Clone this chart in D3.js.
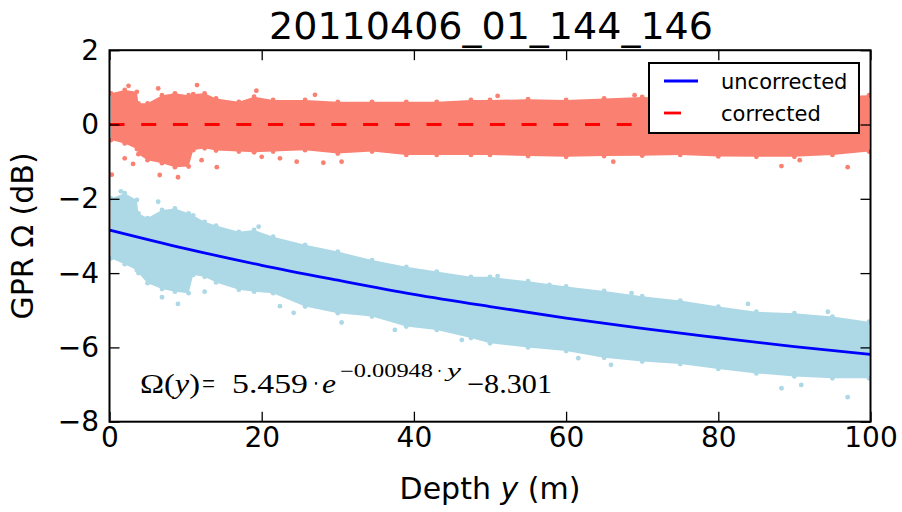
<!DOCTYPE html>
<html>
<head>
<meta charset="utf-8">
<script src="https://cdn.jsdelivr.net/npm/d3@7"></script>
<style>
body { margin: 0; background: #fff; }
svg { display: block; font-family: "DejaVu Sans", sans-serif; }
</style>
</head>
<body>
<svg id="chart" width="902" height="512"></svg>
<script>
var cloudDepth = [0.2, 2, 3.6, 3.8, 5, 6.9, 8.6, 10.4, 11, 12.5, 14, 17, 19, 21.5, 25.7, 30,
    34.5, 39, 43, 47.5, 50, 55, 60, 65, 70, 75, 80, 85, 90, 95, 99.8];

// corrected points (salmon): upper / lower edge of the cloud
var correctedTop = [0.84, 0.93, 0.88, 0.57, 0.57, 0.79, 0.84, 0.79, 0.82, 0.84, 0.70, 0.61, 0.75, 0.66, 0.66, 0.61,
    0.61, 0.61, 0.61, 0.66, 0.66, 0.68, 0.66, 0.70, 0.74, 0.70, 0.74, 0.72, 0.74, 0.76, 0.79];
var correctedBottom = [-0.42, -0.51, -0.66, -0.80, -0.96, -1.04, -1.15, -1.13, -0.69, -0.64, -0.70, -0.73, -0.75, -0.73, -0.69, -0.78,
    -0.73, -0.82, -0.82, -0.82, -0.82, -0.85, -0.87, -0.85, -0.84, -0.82, -0.86, -0.87, -0.87, -0.82, -0.73];

// uncorrected points (light blue)
var uncorrectedTop = [-1.99, -1.85, -2.03, -2.39, -2.52, -2.30, -2.26, -2.39, -2.45, -2.62, -2.72, -2.89, -2.84, -3.02, -3.24, -3.42,
    -3.65, -3.83, -3.96, -4.10, -4.10, -4.22, -4.36, -4.48, -4.62, -4.74, -4.90, -5.04, -5.08, -5.17, -5.31];
var uncorrectedBottom = [-3.60, -3.76, -3.92, -4.00, -4.27, -4.43, -4.50, -4.54, -4.05, -4.10, -4.25, -4.45, -4.50, -4.54, -4.90, -5.08,
    -5.17, -5.44, -5.53, -5.75, -5.89, -6.00, -6.10, -6.28, -6.38, -6.45, -6.58, -6.70, -6.78, -6.83, -6.83];

// stray points outside the dense part [depth, value]
var correctedStray = [[2.5, 1.04], [6.4, 0.97], [11.5, 1.06], [19.3, 0.91], [27, 0.80], [51, 0.77], [69, 0.79],
    [2.0, -0.91], [3.1, -1.06], [6.6, -1.36], [9.0, -1.42], [14.1, -1.15], [12.1, -0.96], [20, -0.87],
    [22.4, -0.91], [24.6, -1.0], [28.1, -1.03], [30.5, -1.0], [66.2, -1.0], [88.3, -1.12], [90.7, -0.96],
    [97, -1.15], [0.3, -1.35]];
var uncorrectedStray = [[6.4, -2.08], [19.6, -2.75], [6.9, -4.65], [9.0, -4.83], [12.5, -4.50], [22.4, -4.89],
    [24.2, -5.07], [30.5, -5.33], [37.5, -5.53], [46.3, -5.80], [88.3, -7.10], [97, -7.34], [90.9, -7.01],
    [65.9, -6.47], [61.6, -6.29], [83.9, -4.83], [68.6, -4.54], [57.8, -4.32], [94.4, -5.04], [51, -4.08],
    [1.5, -1.80]];

// fitted curve, read every 10 m
var fitDepth = [0, 10, 20, 30, 40, 50, 60, 70, 80, 90, 100];
var fitValue = [-2.84, -3.34, -3.79, -4.19, -4.57, -4.90, -5.21, -5.49, -5.74, -5.98, -6.19];

// corrected line
var corrDepth = [0, 100];
var corrValue = [0, 0];

var xTicks = [0, 20, 40, 60, 80, 100];
var yTicks = [2, 0, -2, -4, -6, -8];
var legendLabels = ["uncorrected", "corrected"];
var legendColors = ["#0000ff", "#ff0000"];
var legendDash = [null, "17,40"];

var svg = d3.select("#chart");

var x = d3.scaleLinear().domain([0, 100]).range([109.5, 870.5]);
var y = d3.scaleLinear().domain([-8, 2]).range([421.7, 50.2]);

svg.append("defs").append("clipPath")
    .attr("id", "plotClip")
    .append("rect")
    .attr("x", x(0))
    .attr("y", y(2))
    .attr("width", x(100) - x(0))
    .attr("height", y(-8) - y(2));

var plot = svg.append("g").attr("clip-path", "url(#plotClip)");

//Draw a point cloud as a filled band plus dots along its edges
function drawCloud(top, bottom, stray, color) {
    var band = cloudDepth.map(function (d, i) {
        return {d: d, t: top[i], b: bottom[i]};
    });
    plot.append("path")
        .datum(band)
        .attr("fill", color)
        .attr("d", d3.area()
            .x(function (p) { return x(p.d); })
            .y0(function (p) { return y(p.b); })
            .y1(function (p) { return y(p.t); }));

    var dots = [];
    band.forEach(function (p) {
        dots.push([p.d, p.t]);
        dots.push([p.d, p.b]);
    });
    dots = dots.concat(stray);
    plot.append("g")
        .selectAll("circle")
        .data(dots)
        .enter()
        .append("circle")
        .attr("cx", function (p) { return x(p[0]); })
        .attr("cy", function (p) { return y(p[1]); })
        .attr("r", 2.4)
        .attr("fill", color);
}

drawCloud(correctedTop, correctedBottom, correctedStray, "#fa8072");
drawCloud(uncorrectedTop, uncorrectedBottom, uncorrectedStray, "#add8e6");

var line = d3.line()
    .x(function (d, i) { return x(d); })
    .curve(d3.curveMonotoneX);

plot.append("path")
    .datum(fitDepth)
    .attr("fill", "none")
    .attr("stroke", "#0000ff")
    .attr("stroke-width", 2.8)
    .attr("d", line.y(function (d, i) { return y(fitValue[i]); }));

plot.append("path")
    .datum(corrDepth)
    .attr("fill", "none")
    .attr("stroke", "#ff0000")
    .attr("stroke-width", 3)
    .attr("stroke-dasharray", "15,16.7")
    .attr("d", line.y(function (d, i) { return y(corrValue[i]); }));

//Axes, ticks pointing inward on all four sides
function styleAxis(g) {
    g.select(".domain").remove();
    g.selectAll(".tick line").attr("stroke", "#000").attr("stroke-width", 1.3);
    g.selectAll("text")
        .attr("font-family", "DejaVu Sans")
        .attr("font-size", 28)
        .attr("fill", "#000");
}

svg.append("g")
    .attr("transform", "translate(0," + y(-8) + ")")
    .call(d3.axisBottom(x).tickValues(xTicks).tickSize(-10).tickPadding(5).tickFormat(d3.format("d")))
    .call(styleAxis);

svg.append("g")
    .attr("transform", "translate(0," + y(2) + ")")
    .call(d3.axisTop(x).tickValues(xTicks).tickSize(-10).tickFormat(""))
    .call(styleAxis);

svg.append("g")
    .attr("transform", "translate(" + x(0) + ",0)")
    .call(d3.axisLeft(y).tickValues(yTicks).tickSize(-10).tickPadding(10.5).tickFormat(d3.format("d")))
    .call(styleAxis);

svg.append("g")
    .attr("transform", "translate(" + x(100) + ",0)")
    .call(d3.axisRight(y).tickValues(yTicks).tickSize(-10).tickFormat(""))
    .call(styleAxis);

svg.append("rect")
    .attr("x", x(0))
    .attr("y", y(2))
    .attr("width", x(100) - x(0))
    .attr("height", y(-8) - y(2))
    .attr("fill", "none")
    .attr("stroke", "#000")
    .attr("stroke-width", 2);

//Title and axis labels
svg.append("text")
    .attr("x", 491)
    .attr("y", 39)
    .attr("text-anchor", "middle")
    .attr("font-size", 38)
    .text("20110406_01_144_146");

var xl = svg.append("text")
    .attr("x", 490)
    .attr("y", 499)
    .attr("text-anchor", "middle")
    .attr("font-size", 30);
xl.append("tspan").text("Depth ");
xl.append("tspan").attr("font-style", "italic").text("y");
xl.append("tspan").text(" (m)");

svg.append("text")
    .attr("transform", "translate(33," + ((y(2) + y(-8)) / 2) + ") rotate(-90)")
    .attr("text-anchor", "middle")
    .attr("font-size", 30)
    .text("GPR \u03a9 (dB)");

//Fit equation, each piece stretched to the width it has in the figure
var eqParts = [
    {t: "\u03a9(y)", x: 140, w: 60, base: 393, size: 27},
    {t: "=", x: 202, w: 13, base: 393, size: 27},
    {t: "5.459", x: 232, w: 76, base: 393, size: 27},
    {t: "\u00b7", x: 313, w: 6, base: 393, size: 27},
    {t: "e", x: 322, w: 14, base: 393, size: 27, it: true},
    {t: "\u22120.00948", x: 340, w: 93, base: 377, size: 18},
    {t: "\u00b7", x: 437, w: 5, base: 377, size: 18},
    {t: "y", x: 447, w: 14, base: 377, size: 18, it: true},
    {t: "\u22128.301", x: 467, w: 85, base: 393, size: 27}
];
var eq = svg.append("g").attr("class", "equation");
eqParts.forEach(function (p) {
    var t = eq.append("text")
        .attr("x", p.x)
        .attr("y", p.base)
        .attr("font-family", "Liberation Serif")
        .attr("font-size", p.size)
        .attr("textLength", p.w)
        .attr("lengthAdjust", "spacingAndGlyphs")
        .attr("font-style", p.it ? "italic" : null);
    if (p.t === "\u03a9(y)") {
        t.append("tspan").text("\u03a9(");
        t.append("tspan").attr("font-style", "italic").text("y");
        t.append("tspan").text(")");
    } else {
        t.text(p.t);
    }
});

//Legend
var lg = svg.append("g").attr("class", "legend");
lg.append("rect")
    .attr("x", 649)
    .attr("y", 63)
    .attr("width", 210)
    .attr("height", 70)
    .attr("fill", "#fff")
    .attr("stroke", "#000")
    .attr("stroke-width", 2);

var item = lg.selectAll(".item")
    .data(legendLabels)
    .enter()
    .append("g")
    .attr("class", "item")
    .attr("transform", function (d, i) {
        return "translate(664," + (81 + i * 32) + ")";
    });

item.append("line")
    .attr("x1", 0)
    .attr("x2", 34)
    .attr("stroke", function (d, i) { return legendColors[i]; })
    .attr("stroke-width", 2.8)
    .attr("stroke-dasharray", function (d, i) { return legendDash[i]; });

item.append("text")
    .attr("x", 57)
    .attr("y", 7.5)
    .attr("font-size", 21)
    .text(function (d) { return d; });
</script>
</body>
</html>
